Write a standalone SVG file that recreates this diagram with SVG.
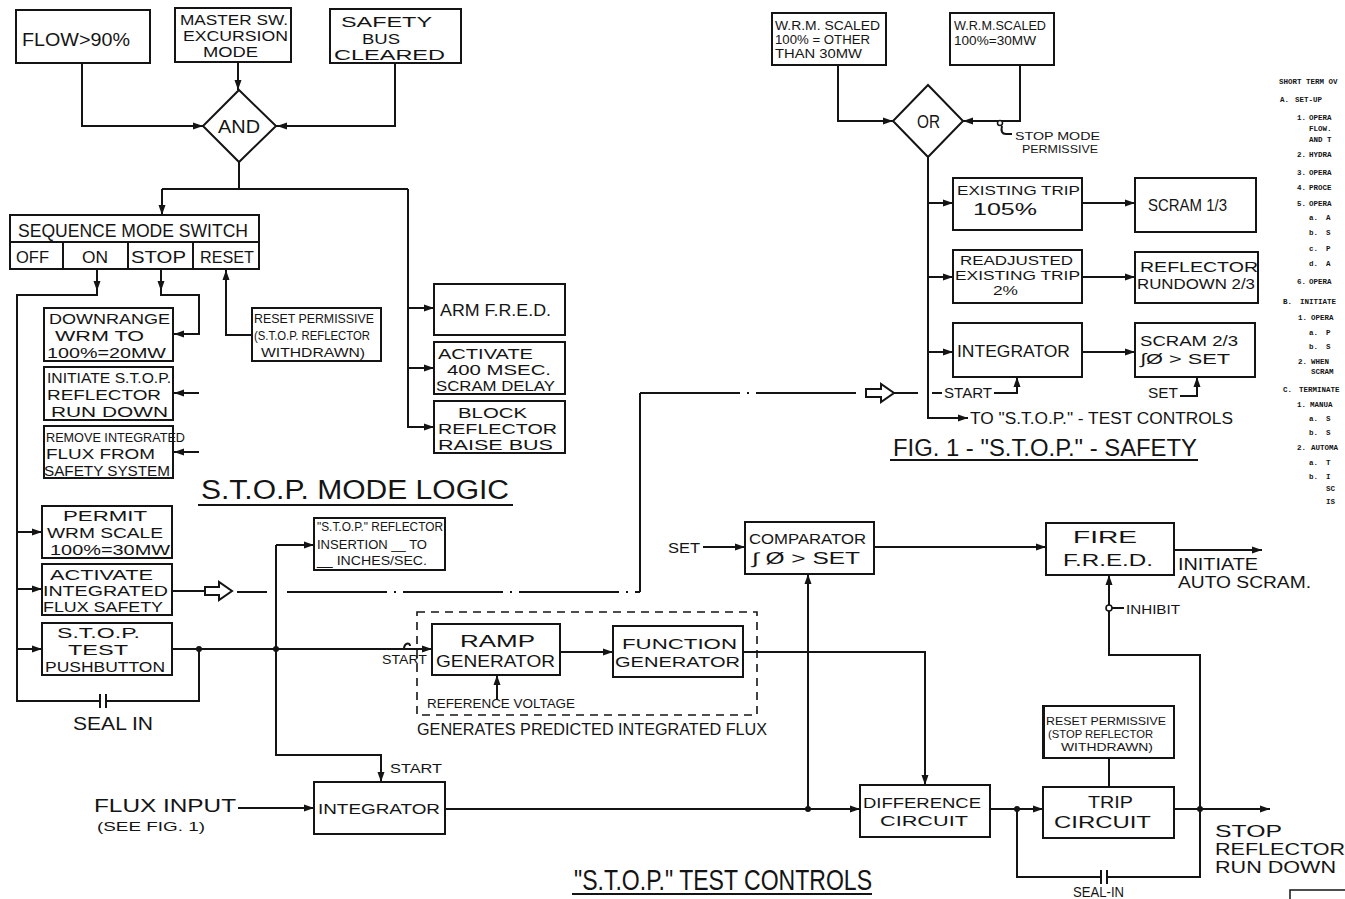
<svg xmlns="http://www.w3.org/2000/svg" xmlns:xlink="http://www.w3.org/1999/xlink" width="1345" height="899" viewBox="0 0 1345 899">
  <style>
    .bx { fill: #fff; stroke: #141414; stroke-width: 2; }
    .ln { fill: none; stroke: #141414; stroke-width: 2; }
    .dd { fill: none; stroke: #141414; stroke-width: 2; stroke-dasharray: 100 7 2 7; }
    .dash { fill: none; stroke: #141414; stroke-width: 1.6; stroke-dasharray: 8 6; }
    .t { font-family: "Liberation Sans", Arial, sans-serif; fill: #141414; }
    .nt { font-family: "Liberation Mono", "Courier New", monospace; font-weight: bold; font-size: 7.5px; fill: #141414; }
    .dot { fill: #141414; }
    .hol { fill: #fff; stroke: #141414; stroke-width: 2; }
  </style>
  <defs>
    <path id="ah" d="M0,0 L-10,-3.5 L-10,3.5 Z" fill="#141414"/>
  </defs>
  <rect width="1345" height="899" fill="#fff"/>

  <!-- connectors -->
  <g id="connectors">
    <!-- inputs to AND -->
    <path class="ln" d="M82,63 V126 H203"/>
    <path class="ln" d="M238,62 V90"/>
    <path class="ln" d="M395,63 V126 H276"/>
    <path class="ln" d="M239,162 V189"/>
    <path class="ln" d="M162,189 H408"/>
    <path class="ln" d="M162,189 V215"/>
    <path class="ln" d="M408,189 V427 H434"/>
    <path class="ln" d="M408,308 H434"/>
    <path class="ln" d="M408,368 H434"/>
    <!-- sequence switch outputs -->
    <path class="ln" d="M97,269 V295 H17 V701 H100"/>
    <path class="ln" d="M100,694 V708 M106,694 V708"/>
    <path class="ln" d="M106,701 H199 V649"/>
    <path class="ln" d="M161,269 V295 H199 V335"/>
    <path class="ln" d="M199,334 H173"/>
    <path class="ln" d="M199,393 H173"/>
    <path class="ln" d="M199,452 H173"/>
    <path class="ln" d="M226,269 V335 H252"/>
    <path class="ln" d="M17,532 H42 M17,589 H42 M17,649 H42"/>
    <!-- push button line -->
    <path class="ln" d="M172,649 H432"/>
    <path class="ln" d="M404,649 C404,643 410,642 410,646" stroke-width="1.5"/>
    <path class="ln" d="M276,545 H314"/>
    <path class="ln" d="M276,545 V755 H381 V782"/>
    <!-- integrated flux safety path -->
    <path class="ln" d="M172,591 H205"/>
    <path class="hol" d="M205,587 H219 V582 L232,591 L219,600 V595 H205 Z"/>
    <path class="ln" d="M237,592 H267"/>
    <path class="dd" d="M287,592 H640"/>
    <path class="ln" d="M640,592 V393"/>
    <path class="dd" d="M640,393 H860"/>
    <path class="hol" d="M866,389 H881 V384 L894,393 L881,402 V397 H866 Z"/>
    <path class="ln" d="M894,393 H918"/>
    <!-- predicted flux chain -->
    <path class="ln" d="M560,652 H613"/>
    <path class="ln" d="M743,652 H925 V785"/>
    <path class="ln" d="M497,700 V675"/>
    <path class="ln" d="M238,808 H314"/>
    <path class="ln" d="M445,809 H860"/>
    <path class="ln" d="M808,809 V574"/>
    <path class="ln" d="M703,547 H745"/>
    <path class="ln" d="M874,547 H1046"/>
    <path class="ln" d="M1174,550 H1262"/>
    <path class="ln" d="M990,809 H1043"/>
    <path class="ln" d="M1174,809 H1270"/>
    <path class="ln" d="M1109,575 V605 M1109,611 V655 H1200 V877 H1107"/>
    <path class="ln" d="M1101,870 V884 M1107,870 V884"/>
    <path class="ln" d="M1101,877 H1017 V809"/>
    <circle cx="1109" cy="608" r="3" fill="#fff" stroke="#141414" stroke-width="1.6"/>
    <path class="ln" d="M1112,608 H1124" stroke-width="1.6"/>
    <path class="ln" d="M1109,758 V787"/>
    <!-- fig. 1 -->
    <path class="ln" d="M838,65 V121 H893"/>
    <path class="ln" d="M1020,65 V121 H963"/>
    <circle cx="1000" cy="123" r="2.5" fill="#fff" stroke="#141414" stroke-width="1.5"/>
    <path class="ln" d="M1002,126 Q1000,134 1006,134 H1012" stroke-width="1.5"/>
    <path class="ln" d="M928,157 V418 H968"/>
    <path class="ln" d="M928,203 H953 M928,277 H953 M928,352 H953"/>
    <path class="ln" d="M1082,203 H1135 M1082,277 H1135 M1082,352 H1135"/>
    <path class="ln" d="M932,393 H942 M994,393 H1017 V377"/>
    <path class="ln" d="M1180,396 H1197 V377"/>

    <!-- arrowheads -->
    <use href="#ah" transform="translate(203,126)"/>
    <use href="#ah" transform="translate(238,90) rotate(90)"/>
    <use href="#ah" transform="translate(277,126) rotate(180)"/>
    <use href="#ah" transform="translate(162,215) rotate(90)"/>
    <use href="#ah" transform="translate(97,291) rotate(90)"/>
    <use href="#ah" transform="translate(161,291) rotate(90)"/>
    <use href="#ah" transform="translate(174,334) rotate(180)"/>
    <use href="#ah" transform="translate(174,393) rotate(180)"/>
    <use href="#ah" transform="translate(174,452) rotate(180)"/>
    <use href="#ah" transform="translate(226,270) rotate(-90)"/>
    <use href="#ah" transform="translate(434,308)"/>
    <use href="#ah" transform="translate(434,368)"/>
    <use href="#ah" transform="translate(434,427)"/>
    <use href="#ah" transform="translate(42,532)"/>
    <use href="#ah" transform="translate(42,589)"/>
    <use href="#ah" transform="translate(42,649)"/>
    <use href="#ah" transform="translate(314,545)"/>
    <use href="#ah" transform="translate(432,649)"/>
    <use href="#ah" transform="translate(613,652)"/>
    <use href="#ah" transform="translate(497,675) rotate(-90)"/>
    <use href="#ah" transform="translate(381,782) rotate(90)"/>
    <use href="#ah" transform="translate(314,808)"/>
    <use href="#ah" transform="translate(745,547)"/>
    <use href="#ah" transform="translate(808,574) rotate(-90)"/>
    <use href="#ah" transform="translate(1046,547)"/>
    <use href="#ah" transform="translate(1262,550)"/>
    <use href="#ah" transform="translate(1109,575) rotate(-90)"/>
    <use href="#ah" transform="translate(925,785) rotate(90)"/>
    <use href="#ah" transform="translate(860,809)"/>
    <use href="#ah" transform="translate(1043,809)"/>
    <use href="#ah" transform="translate(1270,809)"/>
    <use href="#ah" transform="translate(893,121)"/>
    <use href="#ah" transform="translate(963,121) rotate(180)"/>
    <use href="#ah" transform="translate(953,203)"/>
    <use href="#ah" transform="translate(953,277)"/>
    <use href="#ah" transform="translate(953,352)"/>
    <use href="#ah" transform="translate(1135,203)"/>
    <use href="#ah" transform="translate(1135,277)"/>
    <use href="#ah" transform="translate(1135,352)"/>
    <use href="#ah" transform="translate(1017,377) rotate(-90)"/>
    <use href="#ah" transform="translate(1197,377) rotate(-90)"/>
    <use href="#ah" transform="translate(968,418)"/>

    <!-- junctions -->
    <circle class="dot" cx="199" cy="649" r="3"/>
    <circle class="dot" cx="276" cy="649" r="3"/>
    <circle class="dot" cx="808" cy="809" r="3"/>
    <circle class="dot" cx="1017" cy="809" r="3"/>
    <circle class="dot" cx="1200" cy="809" r="3"/>
  </g>

  <!-- S.T.O.P. mode logic -->
  <g id="flow90">
    <rect class="bx" x="16" y="10" width="134" height="53"/>
    <text class="t" x="22" y="46" font-size="18" textLength="108" lengthAdjust="spacingAndGlyphs">FLOW&gt;90%</text>
  </g>
  <g id="master-sw">
    <rect class="bx" x="175" y="8" width="116" height="54"/>
    <text class="t" x="180" y="25" font-size="14" textLength="108" lengthAdjust="spacingAndGlyphs">MASTER SW.</text>
    <text class="t" x="183" y="41" font-size="14" textLength="105" lengthAdjust="spacingAndGlyphs">EXCURSION</text>
    <text class="t" x="203" y="57" font-size="14" textLength="55" lengthAdjust="spacingAndGlyphs">MODE</text>
  </g>
  <g id="safety-bus">
    <rect class="bx" x="330" y="9" width="131" height="54"/>
    <text class="t" x="341" y="27" font-size="15" textLength="91" lengthAdjust="spacingAndGlyphs">SAFETY</text>
    <text class="t" x="362" y="44" font-size="15" textLength="38" lengthAdjust="spacingAndGlyphs">BUS</text>
    <text class="t" x="334" y="60" font-size="15" textLength="111" lengthAdjust="spacingAndGlyphs">CLEARED</text>
  </g>
  <g id="and-gate">
    <polygon class="bx" points="239,90 276,126 239,162 203,126"/>
    <text class="t" x="218" y="133" font-size="19" textLength="42" lengthAdjust="spacingAndGlyphs">AND</text>
  </g>
  <g id="sequence-switch">
    <rect class="bx" x="10" y="215" width="249" height="54"/>
    <path class="ln" d="M10,242 H259 M63,242 V269 M128,242 V269 M193,242 V269"/>
    <text class="t" x="18" y="237" font-size="18" textLength="230" lengthAdjust="spacingAndGlyphs">SEQUENCE MODE SWITCH</text>
    <text class="t" x="16" y="263" font-size="17" textLength="33" lengthAdjust="spacingAndGlyphs">OFF</text>
    <text class="t" x="82" y="263" font-size="17" textLength="26" lengthAdjust="spacingAndGlyphs">ON</text>
    <text class="t" x="131" y="263" font-size="17" textLength="55" lengthAdjust="spacingAndGlyphs">STOP</text>
    <text class="t" x="200" y="263" font-size="17" textLength="54" lengthAdjust="spacingAndGlyphs">RESET</text>
  </g>
  <g id="downrange">
    <rect class="bx" x="44" y="308" width="129" height="53"/>
    <text class="t" x="49" y="324" font-size="15" textLength="121" lengthAdjust="spacingAndGlyphs">DOWNRANGE</text>
    <text class="t" x="55" y="341" font-size="15" textLength="89" lengthAdjust="spacingAndGlyphs">WRM TO</text>
    <text class="t" x="47" y="358" font-size="15" textLength="119" lengthAdjust="spacingAndGlyphs">100%=20MW</text>
  </g>
  <g id="initiate-rundown">
    <rect class="bx" x="44" y="367" width="129" height="53"/>
    <text class="t" x="47" y="383" font-size="14" textLength="124" lengthAdjust="spacingAndGlyphs">INITIATE S.T.O.P.</text>
    <text class="t" x="47" y="400" font-size="15" textLength="114" lengthAdjust="spacingAndGlyphs">REFLECTOR</text>
    <text class="t" x="51" y="417" font-size="15" textLength="117" lengthAdjust="spacingAndGlyphs">RUN DOWN</text>
  </g>
  <g id="remove-flux">
    <rect class="bx" x="44" y="426" width="129" height="52"/>
    <text class="t" x="46" y="442" font-size="13.5" textLength="139" lengthAdjust="spacingAndGlyphs">REMOVE INTEGRATED</text>
    <text class="t" x="46" y="459" font-size="14.5" textLength="109" lengthAdjust="spacingAndGlyphs">FLUX FROM</text>
    <text class="t" x="44" y="476" font-size="14" textLength="126" lengthAdjust="spacingAndGlyphs">SAFETY SYSTEM</text>
  </g>
  <g id="reset-permissive">
    <rect class="bx" x="252" y="308" width="129" height="53"/>
    <text class="t" x="254" y="323" font-size="13" textLength="120" lengthAdjust="spacingAndGlyphs">RESET PERMISSIVE</text>
    <text class="t" x="254" y="340" font-size="13" textLength="116" lengthAdjust="spacingAndGlyphs">(S.T.O.P. REFLECTOR</text>
    <text class="t" x="261" y="357" font-size="13" textLength="104" lengthAdjust="spacingAndGlyphs">WITHDRAWN)</text>
  </g>
  <g id="arm-fred">
    <rect class="bx" x="434" y="284" width="131" height="51"/>
    <text class="t" x="440" y="316" font-size="17" textLength="111" lengthAdjust="spacingAndGlyphs">ARM F.R.E.D.</text>
  </g>
  <g id="scram-delay">
    <rect class="bx" x="434" y="342" width="131" height="52"/>
    <text class="t" x="438" y="359" font-size="14" textLength="95" lengthAdjust="spacingAndGlyphs">ACTIVATE</text>
    <text class="t" x="447" y="375" font-size="14" textLength="104" lengthAdjust="spacingAndGlyphs">400 MSEC.</text>
    <text class="t" x="436" y="391" font-size="14" textLength="119" lengthAdjust="spacingAndGlyphs">SCRAM DELAY</text>
  </g>
  <g id="block-raise">
    <rect class="bx" x="434" y="401" width="131" height="52"/>
    <text class="t" x="458" y="418" font-size="14" textLength="69" lengthAdjust="spacingAndGlyphs">BLOCK</text>
    <text class="t" x="438" y="434" font-size="14" textLength="119" lengthAdjust="spacingAndGlyphs">REFLECTOR</text>
    <text class="t" x="438" y="450" font-size="14" textLength="115" lengthAdjust="spacingAndGlyphs">RAISE BUS</text>
  </g>
  <g id="title-mode-logic">
    <text class="t" x="201" y="499" font-size="27" textLength="308" lengthAdjust="spacingAndGlyphs">S.T.O.P. MODE LOGIC</text>
    <path class="ln" d="M198,505 H513" stroke-width="1.6"/>
  </g>
  <g id="permit-scale">
    <rect class="bx" x="42" y="506" width="130" height="52"/>
    <text class="t" x="63" y="521" font-size="14" textLength="84" lengthAdjust="spacingAndGlyphs">PERMIT</text>
    <text class="t" x="47" y="538" font-size="14" textLength="116" lengthAdjust="spacingAndGlyphs">WRM SCALE</text>
    <text class="t" x="50" y="555" font-size="14" textLength="120" lengthAdjust="spacingAndGlyphs">100%=30MW</text>
  </g>
  <g id="flux-safety">
    <rect class="bx" x="42" y="564" width="130" height="51"/>
    <text class="t" x="50" y="580" font-size="14" textLength="103" lengthAdjust="spacingAndGlyphs">ACTIVATE</text>
    <text class="t" x="43" y="596" font-size="14" textLength="125" lengthAdjust="spacingAndGlyphs">INTEGRATED</text>
    <text class="t" x="43" y="612" font-size="14" textLength="120" lengthAdjust="spacingAndGlyphs">FLUX SAFETY</text>
  </g>
  <g id="test-pushbutton">
    <rect class="bx" x="42" y="623" width="130" height="52"/>
    <text class="t" x="57" y="638" font-size="14" textLength="83" lengthAdjust="spacingAndGlyphs">S.T.O.P.</text>
    <text class="t" x="68" y="655" font-size="14" textLength="60" lengthAdjust="spacingAndGlyphs">TEST</text>
    <text class="t" x="45" y="672" font-size="14" textLength="120" lengthAdjust="spacingAndGlyphs">PUSHBUTTON</text>
  </g>
  <g id="seal-in-left">
    <text class="t" x="73" y="730" font-size="19" textLength="80" lengthAdjust="spacingAndGlyphs">SEAL IN</text>
  </g>

  <!-- S.T.O.P. test controls -->
  <g id="insertion-rate">
    <rect class="bx" x="314" y="518" width="131" height="52"/>
    <text class="t" x="317" y="531" font-size="12" textLength="126" lengthAdjust="spacingAndGlyphs">"S.T.O.P." REFLECTOR</text>
    <text class="t" x="317" y="549" font-size="12" textLength="110" lengthAdjust="spacingAndGlyphs">INSERTION __ TO</text>
    <text class="t" x="317" y="565" font-size="12" textLength="110" lengthAdjust="spacingAndGlyphs">__ INCHES/SEC.</text>
  </g>
  <g id="predicted-flux">
    <rect class="dash" x="417" y="612" width="340" height="103"/>
    <text class="t" x="382" y="664" font-size="13" textLength="45" lengthAdjust="spacingAndGlyphs">START</text>
    <text class="t" x="427" y="708" font-size="13" textLength="148" lengthAdjust="spacingAndGlyphs">REFERENCE VOLTAGE</text>
    <text class="t" x="417" y="735" font-size="16" textLength="350" lengthAdjust="spacingAndGlyphs">GENERATES PREDICTED INTEGRATED FLUX</text>
  </g>
  <g id="ramp-generator">
    <rect class="bx" x="432" y="624" width="128" height="51"/>
    <text class="t" x="460" y="647" font-size="16" textLength="75" lengthAdjust="spacingAndGlyphs">RAMP</text>
    <text class="t" x="436" y="667" font-size="16" textLength="119" lengthAdjust="spacingAndGlyphs">GENERATOR</text>
  </g>
  <g id="function-generator">
    <rect class="bx" x="613" y="626" width="130" height="51"/>
    <text class="t" x="622" y="649" font-size="15" textLength="115" lengthAdjust="spacingAndGlyphs">FUNCTION</text>
    <text class="t" x="615" y="667" font-size="15" textLength="125" lengthAdjust="spacingAndGlyphs">GENERATOR</text>
  </g>
  <g id="comparator">
    <rect class="bx" x="745" y="522" width="129" height="52"/>
    <text class="t" x="668" y="553" font-size="14" textLength="32" lengthAdjust="spacingAndGlyphs">SET</text>
    <text class="t" x="749" y="544" font-size="15" textLength="117" lengthAdjust="spacingAndGlyphs">COMPARATOR</text>
    <text class="t" x="752" y="564" font-size="16" textLength="108" lengthAdjust="spacingAndGlyphs">∫ Ø &gt; SET</text>
  </g>
  <g id="fire-fred">
    <rect class="bx" x="1046" y="523" width="128" height="52"/>
    <text class="t" x="1073" y="543" font-size="17" textLength="64" lengthAdjust="spacingAndGlyphs">FIRE</text>
    <text class="t" x="1063" y="566" font-size="17" textLength="90" lengthAdjust="spacingAndGlyphs">F.R.E.D.</text>
    <text class="t" x="1178" y="570" font-size="16" textLength="80" lengthAdjust="spacingAndGlyphs">INITIATE</text>
    <text class="t" x="1178" y="588" font-size="16" textLength="133" lengthAdjust="spacingAndGlyphs">AUTO SCRAM.</text>
    <text class="t" x="1126" y="614" font-size="12" textLength="54" lengthAdjust="spacingAndGlyphs">INHIBIT</text>
  </g>
  <g id="integrator-test">
    <rect class="bx" x="314" y="782" width="131" height="52"/>
    <text class="t" x="390" y="773" font-size="13" textLength="52" lengthAdjust="spacingAndGlyphs">START</text>
    <text class="t" x="318" y="814" font-size="14" textLength="122" lengthAdjust="spacingAndGlyphs">INTEGRATOR</text>
    <text class="t" x="94" y="812" font-size="18" textLength="142" lengthAdjust="spacingAndGlyphs">FLUX INPUT</text>
    <text class="t" x="97" y="831" font-size="12" textLength="108" lengthAdjust="spacingAndGlyphs">(SEE FIG. 1)</text>
  </g>
  <g id="difference-circuit">
    <rect class="bx" x="860" y="785" width="130" height="52"/>
    <text class="t" x="863" y="808" font-size="15" textLength="118" lengthAdjust="spacingAndGlyphs">DIFFERENCE</text>
    <text class="t" x="880" y="826" font-size="15" textLength="88" lengthAdjust="spacingAndGlyphs">CIRCUIT</text>
  </g>
  <g id="reset-permissive-2">
    <rect class="bx" x="1043" y="706" width="131" height="52"/>
    <path class="ln" d="M1044,707 V757" stroke-width="3"/>
    <text class="t" x="1046" y="725" font-size="11.5" textLength="120" lengthAdjust="spacingAndGlyphs">RESET PERMISSIVE</text>
    <text class="t" x="1048" y="738" font-size="11.5" textLength="105" lengthAdjust="spacingAndGlyphs">(STOP REFLECTOR</text>
    <text class="t" x="1061" y="751" font-size="11.5" textLength="92" lengthAdjust="spacingAndGlyphs">WITHDRAWN)</text>
  </g>
  <g id="trip-circuit">
    <rect class="bx" x="1043" y="787" width="131" height="51"/>
    <text class="t" x="1088" y="808" font-size="16" textLength="45" lengthAdjust="spacingAndGlyphs">TRIP</text>
    <text class="t" x="1054" y="828" font-size="17" textLength="97" lengthAdjust="spacingAndGlyphs">CIRCUIT</text>
    <text class="t" x="1073" y="897" font-size="14" textLength="51" lengthAdjust="spacingAndGlyphs">SEAL-IN</text>
  </g>
  <g id="stop-rundown-out">
    <text class="t" x="1215" y="837" font-size="16.5" textLength="67" lengthAdjust="spacingAndGlyphs">STOP</text>
    <text class="t" x="1215" y="855" font-size="16.5" textLength="130" lengthAdjust="spacingAndGlyphs">REFLECTOR</text>
    <text class="t" x="1215" y="873" font-size="16.5" textLength="121" lengthAdjust="spacingAndGlyphs">RUN DOWN</text>
  </g>
  <g id="title-test-controls">
    <text class="t" x="574" y="890" font-size="30" textLength="298" lengthAdjust="spacingAndGlyphs">"S.T.O.P." TEST CONTROLS</text>
    <path class="ln" d="M572,894 H872" stroke-width="1.6"/>
  </g>
  <g id="title-block">
    <rect x="1290" y="890" width="60" height="14" fill="#fff" stroke="#141414" stroke-width="1.5"/>
  </g>

  <!-- Fig. 1: S.T.O.P. safety -->
  <g id="wrm-other">
    <rect class="bx" x="772" y="13" width="114" height="52"/>
    <text class="t" x="775" y="30" font-size="12.5" textLength="105" lengthAdjust="spacingAndGlyphs">W.R.M. SCALED</text>
    <text class="t" x="775" y="44" font-size="12.5" textLength="95" lengthAdjust="spacingAndGlyphs">100% = OTHER</text>
    <text class="t" x="775" y="58" font-size="12.5" textLength="87" lengthAdjust="spacingAndGlyphs">THAN 30MW</text>
  </g>
  <g id="wrm-30">
    <rect class="bx" x="950" y="13" width="104" height="52"/>
    <text class="t" x="954" y="30" font-size="13" textLength="92" lengthAdjust="spacingAndGlyphs">W.R.M.SCALED</text>
    <text class="t" x="954" y="45" font-size="13" textLength="82" lengthAdjust="spacingAndGlyphs">100%=30MW</text>
  </g>
  <g id="or-gate">
    <polygon class="bx" points="928,85 963,121 928,157 893,121"/>
    <text class="t" x="917" y="128" font-size="18" textLength="23" lengthAdjust="spacingAndGlyphs">OR</text>
    <text class="t" x="1015" y="140" font-size="11" textLength="85" lengthAdjust="spacingAndGlyphs">STOP MODE</text>
    <text class="t" x="1022" y="153" font-size="11" textLength="76" lengthAdjust="spacingAndGlyphs">PERMISSIVE</text>
  </g>
  <g id="existing-trip">
    <rect class="bx" x="953" y="178" width="129" height="52"/>
    <text class="t" x="957" y="195" font-size="13" textLength="123" lengthAdjust="spacingAndGlyphs">EXISTING TRIP</text>
    <text class="t" x="973" y="215" font-size="17" textLength="64" lengthAdjust="spacingAndGlyphs">105%</text>
  </g>
  <g id="scram-third">
    <rect class="bx" x="1135" y="178" width="121" height="54"/>
    <text class="t" x="1148" y="211" font-size="17" textLength="79" lengthAdjust="spacingAndGlyphs">SCRAM 1/3</text>
  </g>
  <g id="readjusted-trip">
    <rect class="bx" x="953" y="250" width="129" height="53"/>
    <text class="t" x="960" y="265" font-size="12.5" textLength="113" lengthAdjust="spacingAndGlyphs">READJUSTED</text>
    <text class="t" x="955" y="280" font-size="12.5" textLength="125" lengthAdjust="spacingAndGlyphs">EXISTING TRIP</text>
    <text class="t" x="993" y="295" font-size="13" textLength="25" lengthAdjust="spacingAndGlyphs">2%</text>
  </g>
  <g id="reflector-rundown">
    <rect class="bx" x="1135" y="252" width="123" height="51"/>
    <text class="t" x="1140" y="272" font-size="15" textLength="118" lengthAdjust="spacingAndGlyphs">REFLECTOR</text>
    <text class="t" x="1137" y="289" font-size="14" textLength="118" lengthAdjust="spacingAndGlyphs">RUNDOWN 2/3</text>
  </g>
  <g id="integrator-safety">
    <rect class="bx" x="953" y="323" width="129" height="54"/>
    <text class="t" x="957" y="357" font-size="16" textLength="113" lengthAdjust="spacingAndGlyphs">INTEGRATOR</text>
    <text class="t" x="944" y="398" font-size="14" textLength="48" lengthAdjust="spacingAndGlyphs">START</text>
  </g>
  <g id="scram-two-thirds">
    <rect class="bx" x="1135" y="323" width="120" height="54"/>
    <text class="t" x="1140" y="346" font-size="15" textLength="98" lengthAdjust="spacingAndGlyphs">SCRAM 2/3</text>
    <text class="t" x="1140" y="364" font-size="15" textLength="90" lengthAdjust="spacingAndGlyphs">∫Ø &gt; SET</text>
    <text class="t" x="1148" y="398" font-size="14" textLength="30" lengthAdjust="spacingAndGlyphs">SET</text>
  </g>
  <g id="to-test-controls">
    <text class="t" x="970" y="424" font-size="16" textLength="263" lengthAdjust="spacingAndGlyphs">TO "S.T.O.P." - TEST CONTROLS</text>
  </g>
  <g id="title-fig1">
    <text class="t" x="893" y="456" font-size="23" textLength="304" lengthAdjust="spacingAndGlyphs">FIG. 1 - "S.T.O.P." - SAFETY</text>
    <path class="ln" d="M890,460 H1198" stroke-width="1.6"/>
  </g>

  <!-- operating procedure column, cut at the sheet edge -->
  <g id="procedure-notes">
    <text class="nt" x="1279" y="84">SHORT TERM OV</text>
    <text class="nt" y="102"><tspan x="1280">A.</tspan><tspan x="1295">SET-UP</tspan></text>
    <text class="nt" y="120"><tspan x="1297">1.</tspan><tspan x="1309">OPERA</tspan></text>
    <text class="nt" x="1309" y="131">FLOW.</text>
    <text class="nt" x="1309" y="142">AND T</text>
    <text class="nt" y="157"><tspan x="1297">2.</tspan><tspan x="1309">HYDRA</tspan></text>
    <text class="nt" y="175"><tspan x="1297">3.</tspan><tspan x="1309">OPERA</tspan></text>
    <text class="nt" y="190"><tspan x="1297">4.</tspan><tspan x="1309">PROCE</tspan></text>
    <text class="nt" y="206"><tspan x="1297">5.</tspan><tspan x="1309">OPERA</tspan></text>
    <text class="nt" y="220"><tspan x="1309">a.</tspan><tspan x="1326">A</tspan></text>
    <text class="nt" y="235"><tspan x="1309">b.</tspan><tspan x="1326">S</tspan></text>
    <text class="nt" y="251"><tspan x="1309">c.</tspan><tspan x="1326">P</tspan></text>
    <text class="nt" y="266"><tspan x="1309">d.</tspan><tspan x="1326">A</tspan></text>
    <text class="nt" y="284"><tspan x="1297">6.</tspan><tspan x="1309">OPERA</tspan></text>
    <text class="nt" y="304"><tspan x="1283">B.</tspan><tspan x="1300">INITIATE</tspan></text>
    <text class="nt" y="320"><tspan x="1298">1.</tspan><tspan x="1311">OPERA</tspan></text>
    <text class="nt" y="335"><tspan x="1309">a.</tspan><tspan x="1326">P</tspan></text>
    <text class="nt" y="349"><tspan x="1309">b.</tspan><tspan x="1326">S</tspan></text>
    <text class="nt" y="364"><tspan x="1298">2.</tspan><tspan x="1311">WHEN</tspan></text>
    <text class="nt" x="1311" y="374">SCRAM</text>
    <text class="nt" y="392"><tspan x="1283">C.</tspan><tspan x="1299">TERMINATE</tspan></text>
    <text class="nt" y="407"><tspan x="1297">1.</tspan><tspan x="1310">MANUA</tspan></text>
    <text class="nt" y="421"><tspan x="1309">a.</tspan><tspan x="1326">S</tspan></text>
    <text class="nt" y="435"><tspan x="1309">b.</tspan><tspan x="1326">S</tspan></text>
    <text class="nt" y="450"><tspan x="1297">2.</tspan><tspan x="1311">AUTOMA</tspan></text>
    <text class="nt" y="465"><tspan x="1309">a.</tspan><tspan x="1326">T</tspan></text>
    <text class="nt" y="479"><tspan x="1309">b.</tspan><tspan x="1326">I</tspan></text>
    <text class="nt" x="1326" y="491">SC</text>
    <text class="nt" x="1326" y="504">IS</text>
  </g>
</svg>
